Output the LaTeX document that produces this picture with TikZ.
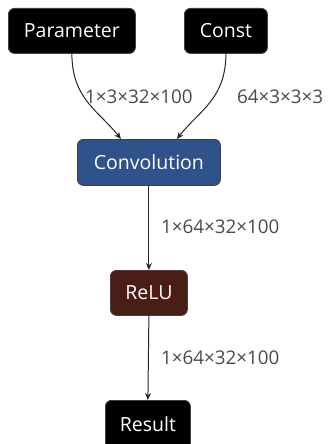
\documentclass[tikz,border=0pt]{standalone}
\usepackage{fontspec}
\setmainfont{Open Sans}
\usetikzlibrary{arrows.meta}
\definecolor{convblue}{HTML}{30528A}
\definecolor{relubrown}{HTML}{4A1D17}
\definecolor{lblgray}{HTML}{4A4A4A}
\tikzset{
  opbox/.style={draw=black!75, line width=0.8pt, rounded corners=6pt, text=white, font=\fontsize{19.5}{23}\selectfont, inner sep=0pt, anchor=north west},
  conn/.style={draw=black!85, line width=1pt, -{Stealth[length=7pt,width=6pt]}},
  lbl/.style={text=lblgray, font=\fontsize{18.8}{22}\selectfont, inner sep=0pt, anchor=west}
}
\begin{document}
\begin{tikzpicture}[x=1pt,y=-1pt]
\useasboundingbox (0,0) rectangle (331,444);
\node[opbox, fill=black, minimum width=127pt, minimum height=45pt] (par) at (8,8) {Parameter};
\node[opbox, fill=black, minimum width=83pt, minimum height=45pt] (cst) at (184,8) {Const};
\node[opbox, fill=convblue, minimum width=143pt, minimum height=46pt] (conv) at (77,139) {Convolution};
\node[opbox, fill=relubrown, minimum width=77pt, minimum height=45pt] (relu) at (110,270) {ReLU};
\begin{scope}
\clip (0,0) rectangle (331,444);
\node[opbox, fill=black, minimum width=85pt, minimum height=50pt, text depth=0pt] (res) at (105,400) {\raisebox{2pt}{Result}};
\end{scope}
\draw[conn] (par.south) .. controls ++(0,45) and ++(-22,-28) .. ([xshift=-28pt]conv.north);
\draw[conn] (cst.south) .. controls ++(0,45) and ++(22,-28) .. ([xshift=28pt]conv.north);
\draw[conn] (conv.south) -- (relu.north);
\draw[conn] (relu.south) -- (res.north);
\node[lbl] (l1) at (85,97) {1×3×32×100};
\node[lbl] (l2) at (237,97) {64×3×3×3};
\node[lbl] (l3) at (161,227) {1×64×32×100};
\node[lbl] (l4) at (161,358) {1×64×32×100};
\end{tikzpicture}
\end{document}
